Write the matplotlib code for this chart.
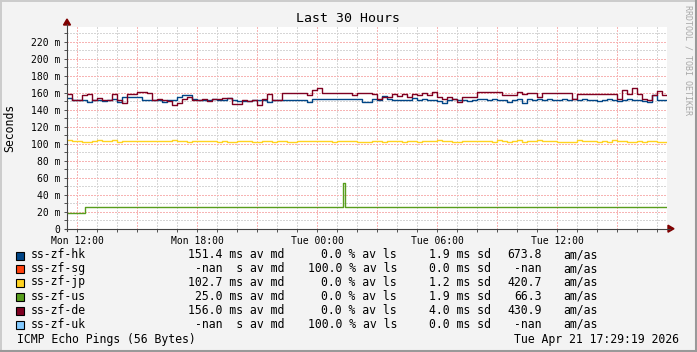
import numpy as np
import matplotlib
matplotlib.use('Agg')
import matplotlib.pyplot as plt
from matplotlib.lines import Line2D
from matplotlib.patches import Rectangle, Polygon

W, H = 697, 352

# time axis: hours since Mon 00:00, one value every 15 minutes from Mon 11:30
t_start = 11.5
step_h = 0.25

hk_ms = [154, 151.5, 151.5, 151, 149.5, 151.5, 151.5, 150, 151.5, 153,
         149.5, 154.5, 154.5, 154.5, 154.5, 152, 152, 152, 152, 149.5,
         152, 152, 155, 157, 157, 153, 152, 152, 151, 153,
         151, 152, 154, 151.5, 150, 150, 150, 152, 152, 152,
         149.5, 152, 152, 151.5, 151.5, 151.5, 151.5, 151.5, 149.5, 152.5,
         152.5, 152.5, 152.5, 152.5, 152.5, 152.5, 152.5, 152.5, 152.5, 149.5,
         149.5, 153, 151.5, 156, 153, 151.5, 152, 151.5, 152, 154,
         152, 153, 151, 152, 150, 148, 152, 153, 151, 152,
         150, 152, 153, 153, 152, 153, 151, 152, 149, 152,
         153, 148, 153, 151, 153, 152, 153, 152, 151, 153,
         152, 153, 151, 153, 152, 151, 150, 152, 153, 152,
         150, 152, 153, 151, 152, 150, 149, 157, 152, 151.5]

de_ms = [158.6, 152, 152, 157, 158, 152, 154, 152, 151, 158,
         152, 148, 158, 158, 160.5, 161, 160, 152, 153, 152,
         150, 146, 148, 153, 155, 152, 151, 153, 150, 153,
         153, 154, 154, 147, 147, 151, 150, 151, 146, 153,
         158, 151.5, 151.5, 159.5, 159.5, 159.5, 159.5, 159.5, 157, 163,
         165, 159.5, 159.5, 159.5, 159.5, 159.5, 159.5, 157, 159.5, 159.5,
         159.5, 159, 153, 155, 155, 159, 156, 159, 155, 159,
         157, 160, 157, 161, 155, 153, 155, 153, 149, 155,
         155, 155, 161, 161, 161, 161, 161, 157, 157, 157,
         161, 158, 160, 160, 155, 160, 160, 160, 160, 160,
         160, 153, 159, 159, 159, 159, 159, 159, 159, 159,
         153, 163, 159, 166, 158, 153, 151, 157, 162, 157]

jp_ms = [104.5, 103.5, 103.5, 101.5, 102.5, 103.5, 104.5, 103.5, 103.5, 104.5,
         101.5, 103.5, 103.5, 103.5, 103.5, 103.5, 103.5, 103.5, 103.5, 103.5,
         103.5, 104.5, 103.5, 103.5, 101.5, 103.5, 103.5, 103.5, 103.5, 103.5,
         101.5, 103.5, 101.5, 102, 103.5, 103.5, 103.5, 101.5, 102, 103.5,
         103.5, 101.5, 103.5, 103.5, 101.5, 102.5, 103.5, 103.5, 103.5, 103.5,
         103.5, 103.5, 103.5, 101.5, 103.5, 103.5, 103.5, 103.5, 101.5, 101.5,
         101.5, 103.5, 103.5, 102, 103.5, 103.5, 103.5, 101.5, 103.5, 103.5,
         101.5, 103.5, 103.5, 103.5, 104.5, 103.5, 103.5, 101.5, 101.5, 103.5,
         103.5, 103.5, 103.5, 103.5, 103.5, 101.5, 104.5, 103.5, 102, 103.5,
         104.5, 101.5, 103.5, 103.5, 104.5, 103.5, 103.5, 103.5, 101.5, 101.5,
         101.5, 102, 104.5, 103.5, 103.5, 103.5, 102, 103.5, 102, 104.5,
         103.5, 103.5, 102, 102, 103.5, 101.5, 103.5, 103.5, 101.5, 101.5]

# ss-zf-us as step breakpoints (hours, ms)
us_hours = [11.5, 12.38, 25.3, 25.38, 39.0, 39.2, 41.5]
us_ms = [19.0, 25.0, 53.4, 25.0, 26.0, 25.0, 25.0]

names = ['ss-zf-hk', 'ss-zf-sg', 'ss-zf-jp', 'ss-zf-us', 'ss-zf-de', 'ss-zf-uk']
colors = ['#004586', '#ff420e', '#ffd320', '#579d1c', '#7e0021', '#83caff']
median_txt = ['151.4 ms', '-nan  s', '102.7 ms', '25.0 ms', '156.0 ms', '-nan  s']
loss_txt = ['0.0', '100.0', '0.0', '0.0', '0.0', '100.0']
sd_txt = ['1.9', '0.0', '1.2', '1.9', '4.0', '0.0']
amas_txt = ['673.8', '-nan', '420.7', '66.3', '430.9', '-nan']

x_ticks = [12, 18, 24, 30, 36]
x_labels = ['Mon 12:00', 'Mon 18:00', 'Tue 00:00', 'Tue 06:00', 'Tue 12:00']
y_ticks = list(range(0, 221, 20))

mono = 'DejaVu Sans Mono'
plt.rcParams['font.family'] = mono


def fx(x):
    return x / W


def fy(y):
    return 1 - y / H


fig = plt.figure(figsize=(W / 100, H / 100), dpi=100, facecolor='#F3F3F3')

# 3d-ish frame
fig.add_artist(Line2D([0, 1], [fy(0.5), fy(0.5)], color='#CBCBCB', lw=1.4))
fig.add_artist(Line2D([fx(0.5), fx(0.5)], [0, 1], color='#CBCBCB', lw=1.4))
fig.add_artist(Line2D([0, 1], [fy(351), fy(351)], color='#999999', lw=1.5))
fig.add_artist(Line2D([fx(696), fx(696)], [0, 1], color='#999999', lw=1.5))

x0, x1, ytop, ybot = 67, 667, 27, 228.7
ax = fig.add_axes([fx(x0), fy(ybot), (x1 - x0) / W, (ybot - ytop) / H])
ax.set_facecolor('white')
ax.set_xlim(11.5, 41.5)
ax.set_ylim(0, (ybot - ytop) / 0.85)
for s in ax.spines.values():
    s.set_visible(False)

# grid
minor_c, major_c = '#D6D6D6', '#F7B4B4'
for h in range(12, 42):
    major = (h % 3 == 0)
    ax.axvline(h, color=major_c if major else minor_c, lw=0.72,
               ls=(0, (1.4, 1.4)), antialiased=False, zorder=1)
for v in range(10, 240, 10):
    major = (v % 20 == 0)
    ax.axhline(v, color=major_c if major else minor_c, lw=0.72,
               ls=(0, (1.4, 1.4)), antialiased=False, zorder=1)

ax.set_xticks(x_ticks)
ax.set_xticklabels(x_labels, fontsize=7)
ax.set_xticks(range(12, 42), minor=True)
ax.set_yticks(y_ticks)
ax.set_yticklabels(['0'] + ['%d m' % v for v in y_ticks[1:]], fontsize=7)
ax.set_yticks(range(10, 240, 20), minor=True)
ax.tick_params(axis='both', which='both', length=2, width=0.72, color='#555555')
ax.tick_params(axis='y', which='both', pad=3)
ax.tick_params(axis='x', which='both', pad=3)

# series
tt = t_start + step_h * np.arange(len(hk_ms) + 1)
ax.plot(tt, hk_ms + [hk_ms[-1]], drawstyle='steps-post', color=colors[0], lw=1.0, zorder=3)
ax.plot(tt, jp_ms + [jp_ms[-1]], drawstyle='steps-post', color=colors[2], lw=1.0, zorder=3)
ax.plot(us_hours, us_ms, drawstyle='steps-post', color=colors[3], lw=1.0, zorder=3)
ax.plot(tt, de_ms + [de_ms[-1]], drawstyle='steps-post', color=colors[4], lw=1.0, zorder=3)

# axes with arrows
axis_c = '#444444'
arrow_c = '#7F0000'
fig.add_artist(Line2D([fx(x0), fx(x0)], [fy(ybot + 2), fy(24)], color=axis_c, lw=0.8))
fig.add_artist(Line2D([fx(x0 - 2), fx(670)], [fy(ybot), fy(ybot)], color=axis_c, lw=0.8))
fig.add_artist(Polygon([[fx(x0 - 3.5), fy(25)], [fx(x0 + 3.5), fy(25)], [fx(x0), fy(19)]],
                       closed=True, color=arrow_c, transform=fig.transFigure))
fig.add_artist(Polygon([[fx(668), fy(ybot - 3.5)], [fx(668), fy(ybot + 3.5)], [fx(674), fy(ybot)]],
                       closed=True, color=arrow_c, transform=fig.transFigure))

# titles
fig.text(fx(348), fy(19), 'Last 30 Hours', ha='center', va='center', fontsize=9.5)
fig.text(fx(10), fy(128), 'Seconds', ha='center', va='center', rotation=90, fontsize=8.3)
fig.text(fx(688), fy(60), 'RRDTOOL / TOBI OETIKER', ha='center', va='center',
         rotation=-90, fontsize=6, color='#A8A8A8')

# legend
row_y = [255, 268.5, 282, 296, 310, 324]
for i, nm in enumerate(names):
    y = row_y[i]
    fig.add_artist(Rectangle((fx(15.5), fy(y + 4.5)), 8 / W, 8 / H, facecolor=colors[i],
                             edgecolor='black', lw=0.8, transform=fig.transFigure))
    fs = 8.3
    fig.text(fx(30.7), fy(y), nm, ha='left', va='center', fontsize=fs)
    fig.text(fx(284), fy(y), median_txt[i] + ' av md', ha='right', va='center', fontsize=fs)
    fig.text(fx(397), fy(y), loss_txt[i] + ' % av ls', ha='right', va='center', fontsize=fs)
    fig.text(fx(490.5), fy(y), sd_txt[i] + ' ms sd', ha='right', va='center', fontsize=fs)
    fig.text(fx(541.7), fy(y), amas_txt[i], ha='right', va='center', fontsize=fs)
    fig.text(fx(563.3), fy(y), 'am/as', ha='left', va='center', fontsize=fs)

fig.text(fx(16.7), fy(339), 'ICMP Echo Pings (56 Bytes)', ha='left', va='center', fontsize=8.3)
fig.text(fx(678.5), fy(339), 'Tue Apr 21 17:29:19 2026', ha='right', va='center', fontsize=8.3)

fig.savefig('out.png', dpi=100, facecolor=fig.get_facecolor())
